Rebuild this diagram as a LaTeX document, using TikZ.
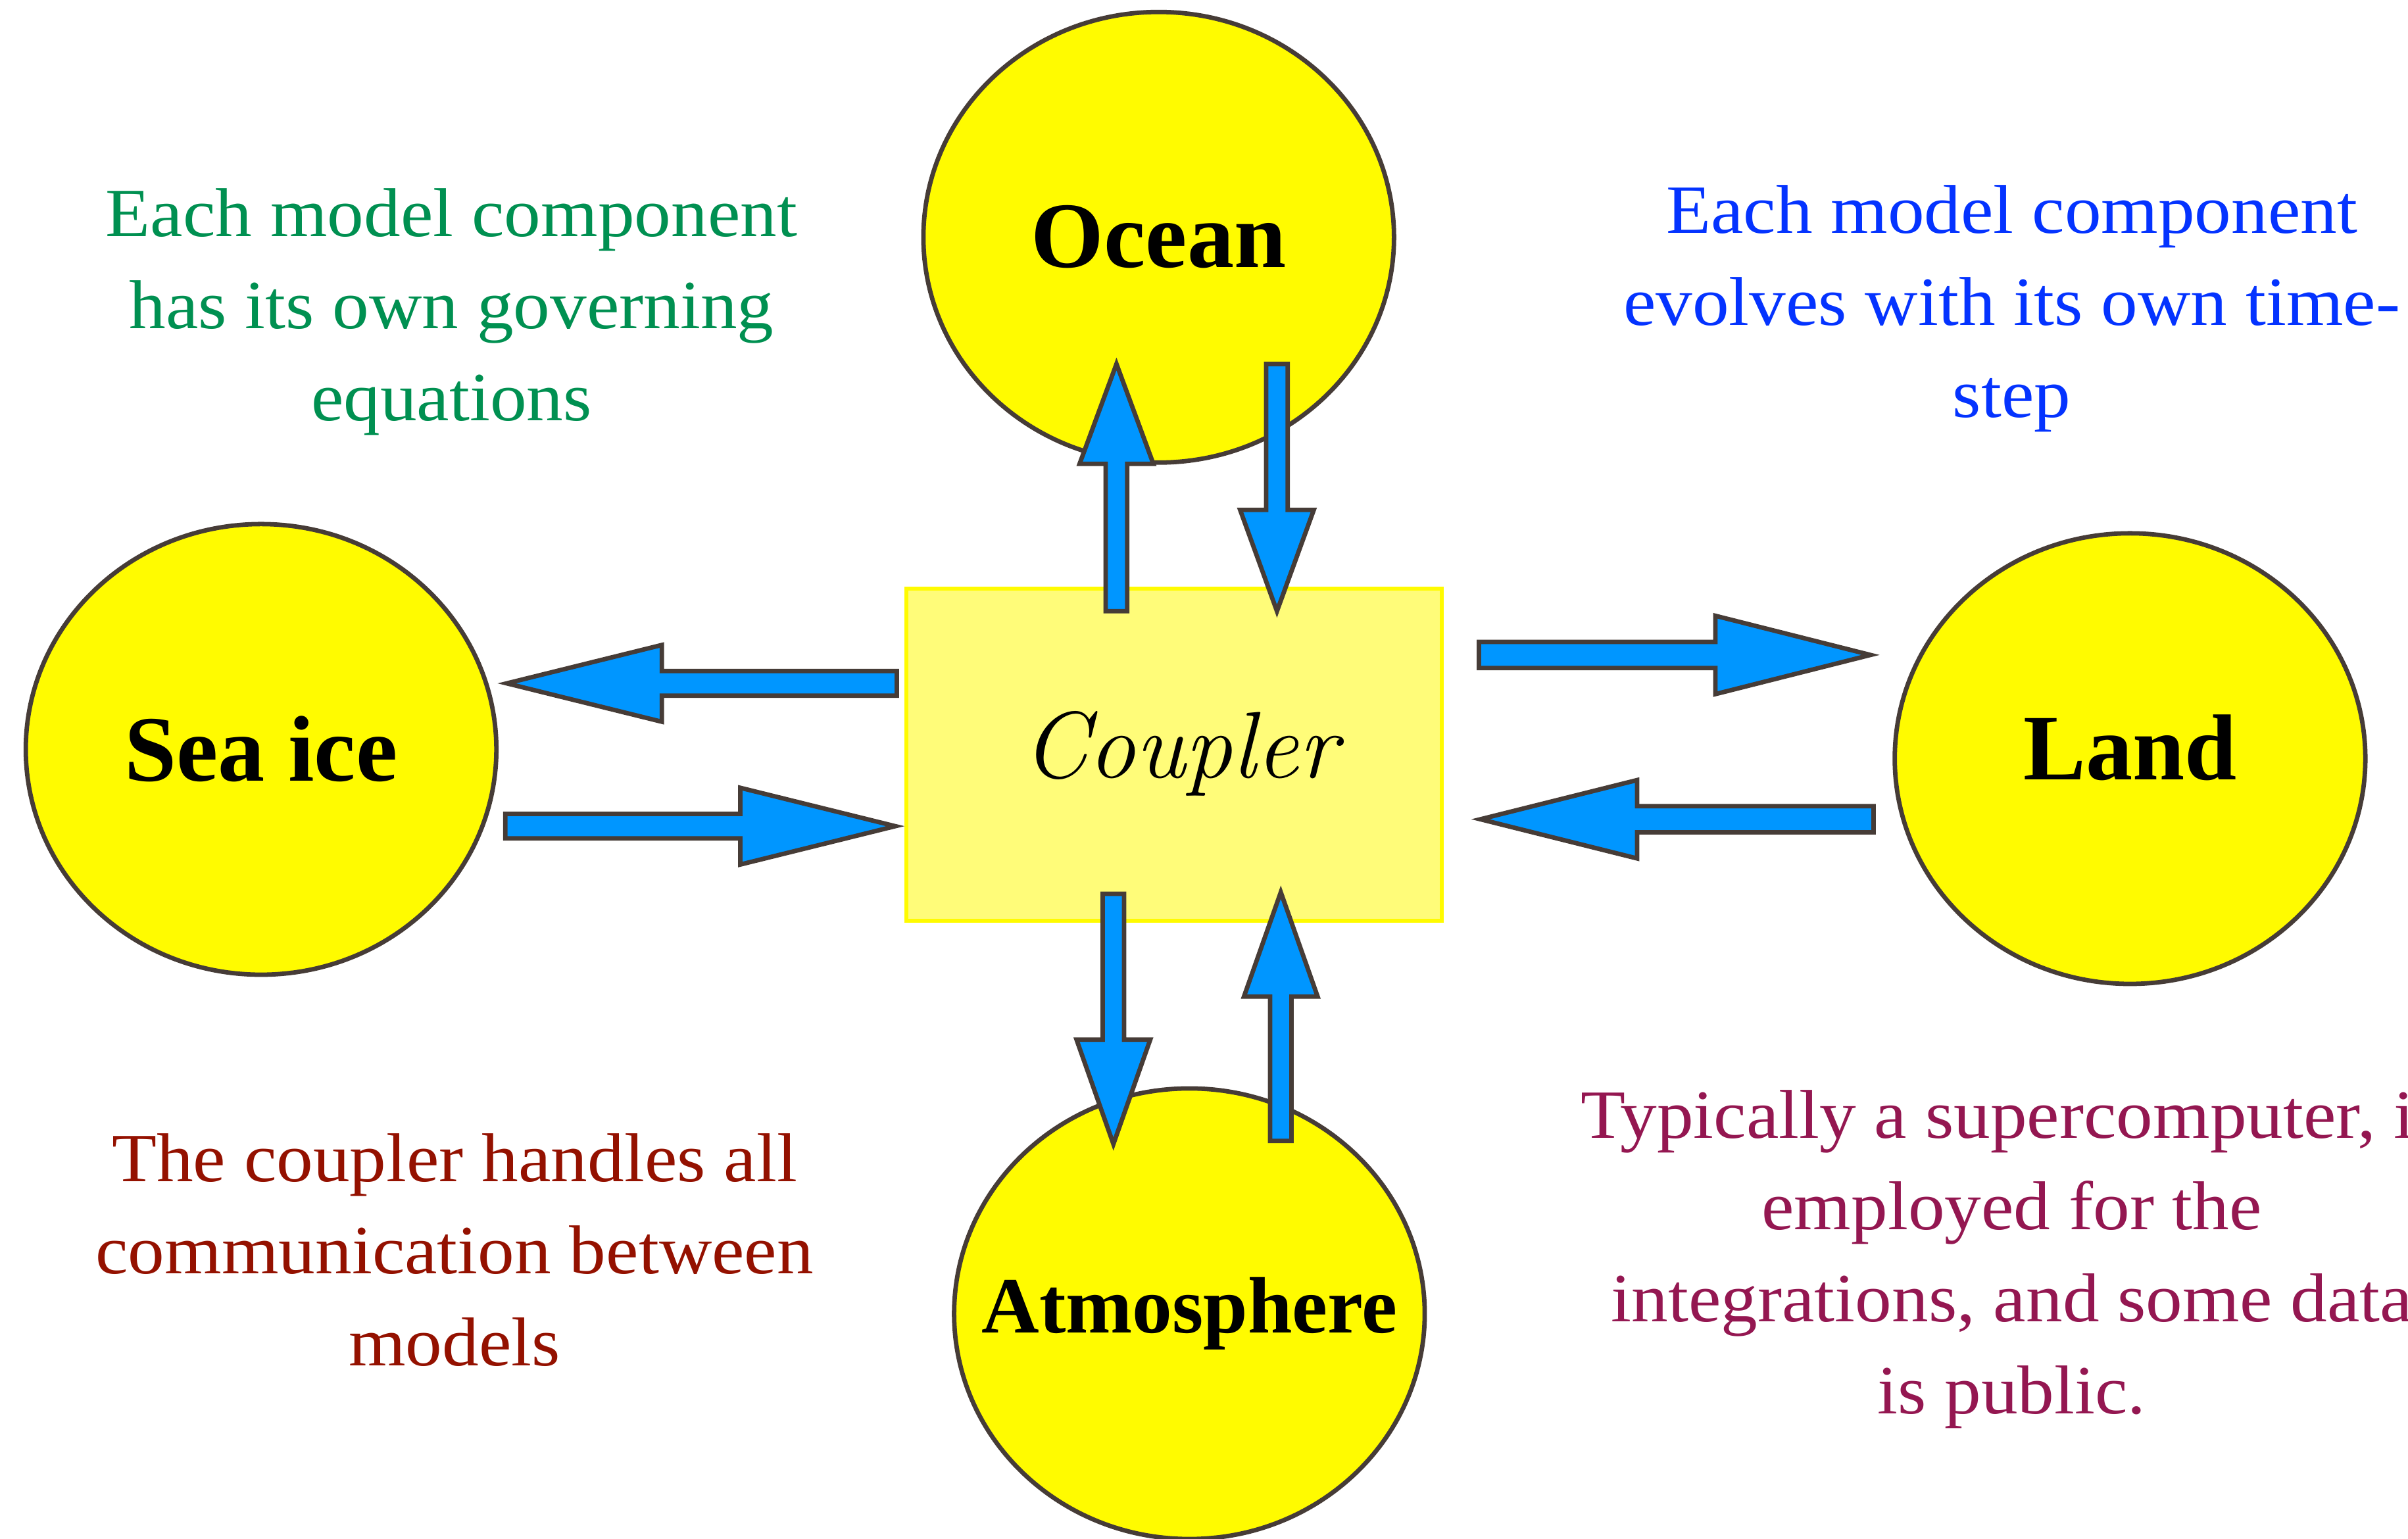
\documentclass[tikz,border=0pt]{standalone}
\usepackage{fontspec}
\newfontfamily\tms{Liberation Serif}
\newfontfamily\tmsw{Liberation Serif}[FakeStretch=1.06]
\usetikzlibrary{shapes.geometric}
\definecolor{lemon}{HTML}{FFFB00}
\definecolor{banana}{HTML}{FFFC79}
\definecolor{aqua}{HTML}{0096FF}
\definecolor{edge}{HTML}{463C37}
\definecolor{moss}{HTML}{009051}
\definecolor{blueberry}{HTML}{0433FF}
\definecolor{maroon}{HTML}{941100}
\definecolor{mulberry}{HTML}{941751}
\tikzset{
  comp/.style={ellipse, draw=edge, fill=lemon, line width=1.65pt, minimum width=6.13cm, minimum height=5.87cm, inner sep=0pt,
    font=\tms\bfseries\fontsize{34.7}{40}\selectfont},
  couplerbox/.style={rectangle, draw=lemon, fill=banana, line width=1.5pt, minimum width=6.97cm, minimum height=4.33cm, inner sep=0pt,
    font=\fontsize{35}{40}\selectfont\itshape},
  fatarrow/.style={draw=edge, fill=aqua, line width=1.65pt, line join=miter},
  note/.style={align=center, inner sep=0pt, font=\tmsw\fontsize{25.6}{34.1}\selectfont}
}
\newcommand{\bArrowV}[6]{% x, ytail, yheadbase, ytip, halfshaft, halfhead
  \draw[fatarrow] ({#1-#5},#2) -- ({#1-#5},#3) -- ({#1-#6},#3) -- (#1,#4) -- ({#1+#6},#3) -- ({#1+#5},#3) -- ({#1+#5},#2) -- cycle;}
\newcommand{\bArrowH}[6]{% y, xtail, xheadbase, xtip, halfshaft, halfhead
  \draw[fatarrow] (#2,{#1-#5}) -- (#3,{#1-#5}) -- (#3,{#1-#6}) -- (#4,#1) -- (#3,{#1+#6}) -- (#3,{#1+#5}) -- (#2,{#1+#5}) -- cycle;}
\newcommand{\lbl}[2][0cm]{\makebox[0pt]{\raisebox{#1}{#2}}}
\begin{document}
\begin{tikzpicture}[x=0.02cm, y=-0.02cm]
\useasboundingbox (0,0) rectangle (1568,1002);
\clip (0,0) rectangle (1568,1002);
\fill[white] (0,0) rectangle (1568,1002);

\node[comp] (ocean) at (754.5,154.5) {\lbl[0.03cm]{Ocean}};
\node[comp] (seaice) at (170,488) {\lbl[0.03cm]{Sea ice}};
\node[comp] (land) at (1387,494) {\lbl[0.3cm]{Land}};
\node[comp, font=\tms\bfseries\fontsize{29.6}{36}\selectfont] (atmos) at (774.5,855.5) {\lbl[-0.03cm]{Atmosphere}};
\node[couplerbox] (coupler) at (764.5,491.5) {\hspace*{0.15cm}\raisebox{0.26cm}{Coupler}};

% ocean arrows
\bArrowV{727}{398}{302}{237}{7}{24}
\bArrowV{831.5}{237}{332}{398}{7}{24}
% atmosphere arrows
\bArrowV{725}{582}{677}{745}{7}{24}
\bArrowV{834}{743}{649}{581}{7}{24}
% sea ice arrows
\bArrowH{445}{584}{431}{330}{8}{25}
\bArrowH{538}{329}{482}{583}{8}{25}
% land arrows
\bArrowH{426.5}{963}{1117}{1218}{8.5}{25.5}
\bArrowH{533.5}{1220}{1066}{964}{8.5}{25.5}

\node[note, text=moss] (t1) at (294,203) {Each model component\\has its own governing\\equations};
\node[note, text=blueberry] (t2) at (1310,201) {Each model component\\evolves with its own time-\\step};
\node[note, text=maroon] (t3) at (296,814) {The coupler handles all\\communication between\\models};
\node[note, text=mulberry] (t4) at (1310,820) {Typically a supercomputer, is\\employed for the\\integrations, and some data\\is public.};
\end{tikzpicture}
\end{document}
